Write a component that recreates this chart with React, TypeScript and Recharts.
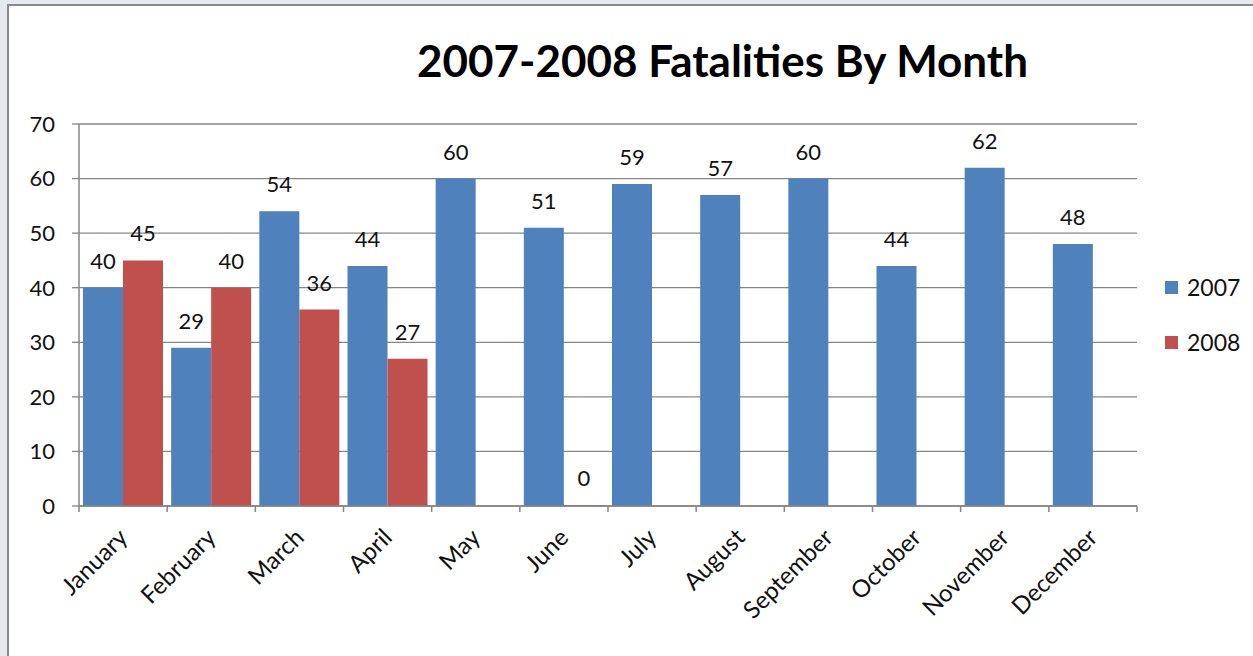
import React from "react";
import { BarChart, Bar, XAxis, YAxis, CartesianGrid, LabelList } from "recharts";

const months = [
  "January", "February", "March", "April", "May", "June",
  "July", "August", "September", "October", "November", "December",
];
const fatal2007 = [40, 29, 54, 44, 60, 51, 59, 57, 60, 44, 62, 48];
const fatal2008: (number | null)[] = [45, 40, 36, 27, null, 0, null, null, null, null, null, null];
const yTicks = [0, 10, 20, 30, 40, 50, 60, 70];

const seriesList = [
  { key: "y2007", name: "2007", color: "#4F81BD" },
  { key: "y2008", name: "2008", color: "#C0504D" },
];

const data = months.map((m, i) => ({ month: m, y2007: fatal2007[i], y2008: fatal2008[i] }));

const FONT = "Lato, 'Open Sans', sans-serif";
const AXIS = "#868686";

// category labels rotated like Excel, tick marks on the category boundaries
const MonthTick = (props: any) => {
  const { x, y, payload, index } = props;
  const half = payload?.offset ?? 44;
  const ax = x + 6;
  const ay = y + 25;
  return (
    <g>
      <line x1={x - half} y1={y - 8} x2={x - half} y2={y - 2} stroke={AXIS} strokeWidth={1.5} />
      {index === months.length - 1 && (
        <line x1={x + half} y1={y - 8} x2={x + half} y2={y - 2} stroke={AXIS} strokeWidth={1.5} />
      )}
      <text
        x={ax}
        y={ay}
        textAnchor="end"
        transform={`rotate(-45, ${ax}, ${ay})`}
        fontSize={24}
        fontFamily={FONT}
        fill="#111"
      >
        {payload.value}
      </text>
    </g>
  );
};

export default function App() {
  return (
    <div style={{ position: "absolute", left: 0, top: 0, width: 1253, height: 656, background: "#e6eaee", overflow: "hidden" }}>
      <div
        style={{
          position: "absolute",
          left: 7,
          top: 4,
          width: 1260,
          height: 660,
          background: "#fff",
          borderLeft: "2px solid #8a8a8a",
          borderTop: "2px solid #8a8a8a",
        }}
      />
      <div
        style={{
          position: "absolute",
          left: 0,
          width: 1445,
          top: 34,
          textAlign: "center",
          fontFamily: FONT,
          fontWeight: 700,
          fontSize: 44,
          color: "#000",
        }}
      >
        2007-2008 Fatalities By Month
      </div>
      <div style={{ position: "absolute", left: 0, top: 0 }}>
        <BarChart
          width={1253}
          height={656}
          data={data}
          margin={{ top: 124, right: 116, left: 19, bottom: 0 }}
          barCategoryGap={4}
          barGap={0}
        >
          <CartesianGrid vertical={false} stroke={AXIS} strokeWidth={1.3} />
          <XAxis
            dataKey="month"
            height={150}
            axisLine={{ stroke: AXIS, strokeWidth: 1.5 }}
            tickLine={false}
            interval={0}
            tick={<MonthTick />}
          />
          <YAxis
            width={60}
            domain={[0, 70]}
            ticks={yTicks}
            axisLine={{ stroke: AXIS, strokeWidth: 1.5 }}
            tickLine={{ stroke: AXIS, strokeWidth: 1.3 }}
            tickSize={7}
            tickMargin={17}
            tick={{ fontSize: 22, fontFamily: FONT, fill: "#111" }}
          />
          {seriesList.map((s) => (
            <Bar
              key={s.key}
              dataKey={s.key}
              name={s.name}
              fill={s.color}
              minPointSize={(v: any) => (v === 0 ? 1 : 0)}
              isAnimationActive={false}
            >
              <LabelList dataKey={s.key} position="top" offset={19} fontSize={22} fontFamily={FONT} fill="#111" />
            </Bar>
          ))}
        </BarChart>
      </div>
      {seriesList.map((s, i) => (
        <div
          key={s.key}
          style={{
            position: "absolute",
            left: 1165,
            top: 273 + i * 55,
            display: "flex",
            alignItems: "center",
            fontFamily: FONT,
            fontSize: 23,
            color: "#111",
          }}
        >
          <span style={{ display: "inline-block", width: 13, height: 13, background: s.color, marginRight: 9 }} />
          {s.name}
        </div>
      ))}
    </div>
  );
}
